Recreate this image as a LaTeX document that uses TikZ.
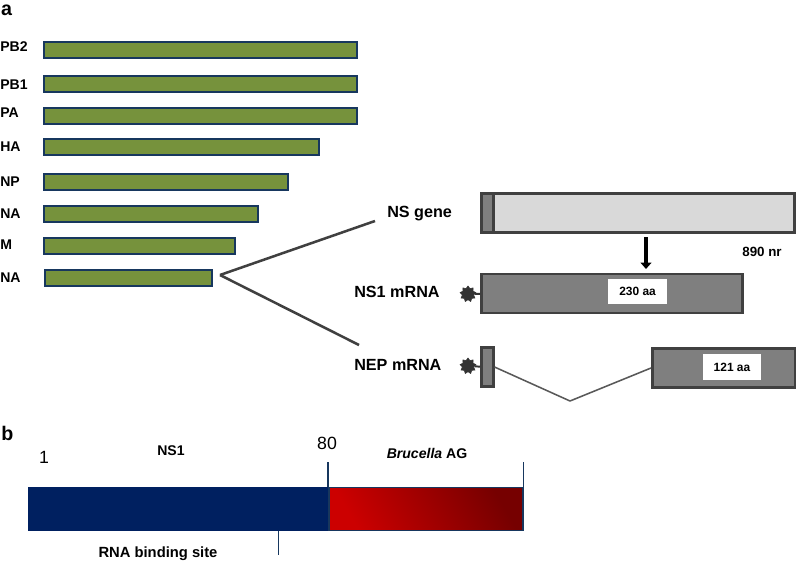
\documentclass[tikz,border=0pt]{standalone}
\usepackage{fontspec}
\setmainfont{Liberation Sans}
\usepackage{tikz}
\usetikzlibrary{arrows.meta}
\usetikzlibrary{shapes.geometric}

\definecolor{segGreen}{HTML}{76923C}
\definecolor{segNavy}{HTML}{17375E}
\definecolor{boxEdge}{HTML}{404040}
\definecolor{boxLight}{HTML}{D9D9D9}
\definecolor{boxGrey}{HTML}{7F7F7F}
\definecolor{ntermBlue}{HTML}{002060}
\definecolor{agRed}{HTML}{CC0000}
\definecolor{agDark}{HTML}{760000}

\begin{document}
\begin{tikzpicture}
\useasboundingbox (0,0) rectangle (19.90,14.05);
\begin{scope}[every node/.style={draw=segNavy,fill=segGreen,line width=1.4pt,
                                 anchor=west,inner sep=0pt,minimum height=0.40cm}]
    \node (pb2) [minimum width=7.825cm] at (1.065, 12.80) {};
    \node (pb1) [minimum width=7.825cm] at (1.065, 11.95) {};
    \node (pa) [minimum width=7.825cm] at (1.065, 11.15) {};
    \node (ha) [minimum width=6.875cm] at (1.065, 10.375) {};
    \node (np) [minimum width=6.10cm] at (1.065, 9.50) {};
    \node (na) [minimum width=5.35cm] at (1.065, 8.70) {};
    \node (m) [minimum width=4.775cm] at (1.065, 7.90) {};
    \node (ns) [minimum width=4.175cm] at (1.090, 7.10) {};
\end{scope}
\begin{scope}[every node/.style={anchor=west,inner sep=0pt,font=\bfseries\fontsize{10}{12}\selectfont}]
    \node (lpb2) at (0.00, 12.875) {PB2};
    \node (lpb1) at (0.00, 11.925) {PB1};
    \node (lpa) at (0.00, 11.225) {PA};
    \node (lha) at (0.00, 10.375) {HA};
    \node (lnp) at (0.00, 9.50) {NP};
    \node (lna) at (0.00, 8.70) {NA};
    \node (lm) at (0.00, 7.925) {M};
    \node (lns) at (0.00, 7.10) {NA};
    \node (pa_label) at (0.02, 13.80) {\fontsize{14}{16}\selectfont a};
    \node (pb_label) at (0.03, 3.225) {\fontsize{14}{16}\selectfont b};
\end{scope}
\begin{scope}[every node/.style={anchor=west,inner sep=0pt,font=\bfseries\fontsize{11.5}{14}\selectfont}]
    \node (lgene) at (9.675, 8.70) {NS gene};
    \node (lnsone) at (8.85, 6.75) {NS1 mRNA};
    \node (lnep) at (8.85, 4.925) {NEP mRNA};
\end{scope}
\begin{scope}[every node/.style={draw=boxEdge,line width=1.8pt,fill=boxGrey,anchor=west,
                                 inner sep=0pt,minimum height=0.97cm}]
    \node (gene) [fill=boxLight,minimum width=7.83cm] at (12.00, 8.725) {};
    \node (genehead) [minimum width=0.30cm] at (12.00, 8.725) {};
    \node (nsone) [minimum width=6.53cm] at (12.00, 6.7125) {};
    \node (nepa) [minimum width=0.30cm] at (12.00, 4.875) {};
    \node (nepb) [minimum width=3.58cm] at (16.275, 4.85) {};
\end{scope}
\begin{scope}[every node/.style={fill=white,inner sep=0pt,minimum width=1.46cm,minimum height=0.64cm,
                                 font=\bfseries\fontsize{8.5}{10}\selectfont}]
    \node (aaone) at (15.94, 6.76) {230 aa};
    \node (aatwo) at (18.30, 4.875) {121 aa};
\end{scope}
\begin{scope}[every node/.style={star,star points=9,star point ratio=1.4,fill=black!80,draw=black!80,
                                 inner sep=0pt,minimum size=0.40cm}]
    \node (capa) at (11.70, 6.70) {};
    \node (capb) at (11.70, 4.90) {};
\end{scope}
\node (genelen) [inner sep=0pt,font=\bfseries\fontsize{9.5}{12}\selectfont] at (19.05, 7.75) {890 nr};
\node (blue) [draw=none,fill=ntermBlue,anchor=west,inner sep=0pt,minimum width=7.50cm,minimum height=1.10cm] at (0.70, 1.325) {};
\node (red) [draw=segNavy,line width=1.2pt,anchor=west,inner sep=0pt,minimum width=4.85cm,minimum height=1.08cm,
             left color=agRed,right color=agDark,shading angle=120] at (8.20, 1.325) {};
\begin{scope}[every node/.style={inner sep=0pt,font=\bfseries\fontsize{10}{12}\selectfont}]
    \node (lnsb) at (4.275, 2.775) {NS1};
    \node (lag) at (10.675, 2.725) {\textit{Brucella} AG};
    \node (lrna) [font=\bfseries\fontsize{10.5}{12}\selectfont] at (3.95, 0.20) {RNA binding site};
\end{scope}
\begin{scope}[every node/.style={inner sep=0pt,font=\fontsize{12.6}{15}\selectfont}]
    \node (lfirst) at (1.10, 2.625) {1};
    \node (leighty) at (8.175, 2.975) {80};
\end{scope}
\coordinate (fork) at (5.50, 7.175);
\coordinate (forkup) at (9.375, 8.525);
\coordinate (forkdown) at (8.975, 5.425);
\coordinate (intron) at (14.25, 4.025);
\coordinate (arrowtop) at (16.15, 8.125);
\coordinate (arrowtip) at (16.15, 7.325);
\coordinate (tickeighty) at (8.20, 2.50);
\coordinate (tickrna) at (6.965, 0.175);
\coordinate (tickrnatop) at (blue.south -| tickrna);
\coordinate (tickend) at (red.north east |- tickeighty);
\begin{scope}[>={Triangle[black,length=0.16cm,width=0.27cm]},
              fork_edge/.style={draw=boxEdge,line width=1.8pt},
              intron_edge/.style={draw=black!65,line width=1.1pt},
              cap_edge/.style={draw=black!80,line width=1.4pt},
              tick_edge/.style={draw=segNavy,line width=1.1pt}]
    \path (fork) edge [fork_edge] (forkup);
    \path (fork) edge [fork_edge] (forkdown);
    \path [->] (arrowtop) edge [draw=black,line width=3.4pt] (arrowtip);
    \path (capa) edge [cap_edge] (nsone);
    \path (capb) edge [cap_edge] (nepa);
    \path (nepa.east) edge [intron_edge] (intron);
    \path (intron) edge [intron_edge] (nepb.west);
    \path (red.north west) edge [tick_edge] (tickeighty);
    \path (red.north east) edge [tick_edge] (tickend);
    \path (tickrnatop) edge [tick_edge] (tickrna);
\end{scope}
\end{tikzpicture}
\end{document}
